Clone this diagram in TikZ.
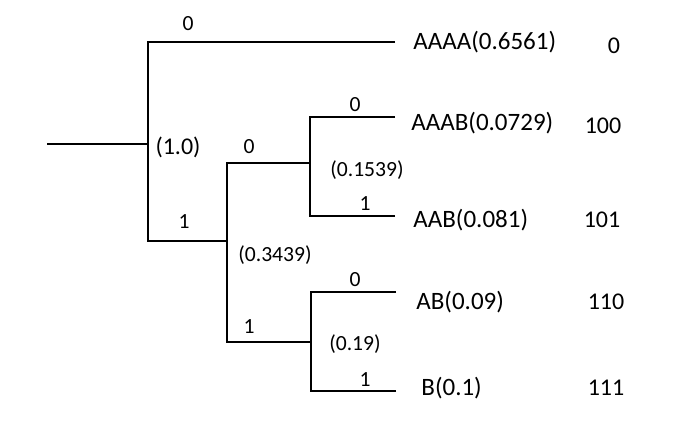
\documentclass[tikz,border=0pt]{standalone}
\usepackage{fontspec}
\setmainfont{Carlito}

\tikzset{
  branch/.style={line width=1pt},
  bit/.style={font=\fontsize{10.8}{12}\selectfont, inner sep=0pt},
  prob/.style={font=\fontsize{10.8}{12}\selectfont, inner sep=0pt},
  leaf/.style={font=\fontsize{12.5}{14}\selectfont, anchor=west, inner sep=0pt},
  code/.style={font=\fontsize{12}{14}\selectfont, inner sep=0pt}
}

\begin{document}
\begin{tikzpicture}[x=0.5pt, y=-0.5pt]
    \useasboundingbox (0,0) rectangle (680,424);

    % branch points and line ends
    \coordinate (root) at (47,144);
    \coordinate (n1) at (148,144);
    \coordinate (n2) at (227,241);
    \coordinate (n3) at (310,163);
    \coordinate (n4) at (311,342);
    \coordinate (tAAAA) at (395,42);
    \coordinate (tAAAB) at (395,117);
    \coordinate (tAAB) at (395,216);
    \coordinate (tAB) at (396,292);
    \coordinate (tB) at (396,391);

    \draw[branch] (root) -- (n1);
    \draw[branch] (tAAAA) -| (n1);
    \draw[branch] (n2) -| (n1);
    \draw[branch] (n3) -| (n2);
    \draw[branch] (n4) -| (n2);
    \draw[branch] (tAAAB) -| (n3);
    \draw[branch] (tAAB) -| (n3);
    \draw[branch] (tAB) -| (n4);
    \draw[branch] (tB) -| (n4);

    % bits and probabilities
    \node[bit] (b10) at (188,24) {0};
    \node[font=\fontsize{12}{14}\selectfont, inner sep=0pt] (p1) at (178,147) {(1.0)};
    \node[bit] (b11) at (184,222) {1};
    \node[bit] (b20) at (249,147) {0};
    \node[prob] (p2) at (275,255) {(0.3439)};
    \node[bit] (b21) at (249,327) {1};
    \node[bit] (b30) at (355,105) {0};
    \node[prob] (p3) at (367,170) {(0.1539)};
    \node[bit] (b31) at (365,204) {1};
    \node[bit] (b40) at (355,280) {0};
    \node[prob] (p4) at (355,344) {(0.19)};
    \node[bit] (b41) at (365,380) {1};

    % leaves
    \node[leaf] (AAAA) at (413,42) {AAAA(0.6561)};
    \node[leaf] (AAAB) at (411,123) {AAAB(0.0729)};
    \node[leaf] (AAB) at (413,220) {AAB(0.081)};
    \node[leaf] (AB) at (416,302) {AB(0.09)};
    \node[leaf] (B) at (421,388) {B(0.1)};

    % codewords
    \node[code] (cAAAA) at (614,46) {0};
    \node[code] (cAAAB) at (603,126) {100};
    \node[code] (cAAB) at (602,220) {101};
    \node[code] (cAB) at (606,302) {110};
    \node[code] (cB) at (606,388) {111};
\end{tikzpicture}
\end{document}
